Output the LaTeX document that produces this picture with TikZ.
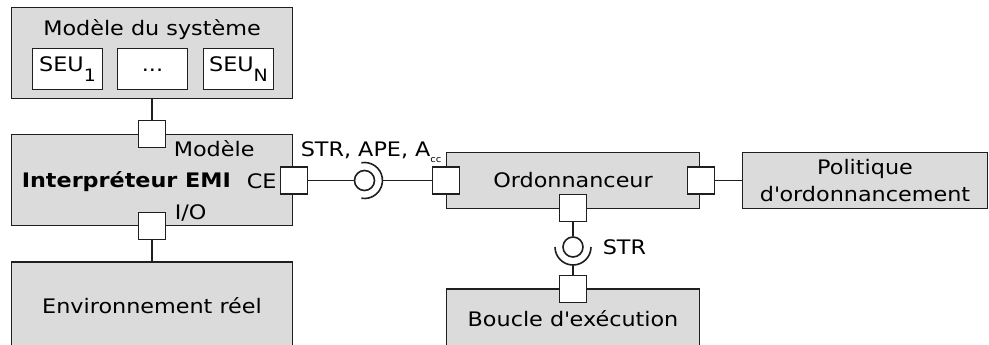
\documentclass[tikz,border=0pt]{standalone}
\usepackage{fontspec}
\setmainfont{DejaVu Sans}[FakeStretch=1.115]
\definecolor{boxgray}{gray}{0.86}
\definecolor{edgegray}{gray}{0.12}
\newcommand{\subidx}[1]{\raisebox{-10pt}{\fontsize{17}{17}\selectfont #1}}

\begin{document}
\begin{tikzpicture}[
    x=1pt, y=-1pt,
    line width=1.6pt,
    every node/.style={inner sep=0pt, font=\fontsize{20}{27}\selectfont},
    block/.style={draw=edgegray, fill=boxgray},
    port/.style={draw=edgegray, fill=white, minimum size=27pt},
    part/.style={draw=edgegray, fill=white, minimum width=70pt, minimum height=41pt},
    ball/.style={draw=edgegray, fill=white, circle, minimum size=20pt}]

    \useasboundingbox (0,0) rectangle (989,345);

    \node[block, minimum width=281pt, minimum height=91pt] (sysmodel) at (152,53) {};
    \node[anchor=base] (sysmodeltitle) at (152,36) {Modèle du système};
    \node[part] (seufirst) at (67.5,69) {SEU\subidx{1}};
    \node[part] (seudots) at (152.5,69) {\vphantom{SEU\subidx{1}}...};
    \node[part] (seulast) at (238.5,69) {SEU\subidx{N}};

    \node[block, minimum width=281pt, minimum height=91pt] (interp) at (152,180) {};
    \node[anchor=base west, font=\fontsize{20}{27}\selectfont\bfseries] (interptitle) at (21,187) {Interpréteur EMI};

    \node[block, minimum width=281pt, minimum height=100pt] (env) at (152,312) {};
    \node[anchor=base] (envtitle) at (152,313) {Environnement réel};

    \node[block, minimum width=253pt, minimum height=56pt] (ordo) at (573,180.5) {Ordonnanceur};
    \node[block, minimum width=245pt, minimum height=56pt, align=center] (politique) at (865,180.5) {Politique\\d\textquotesingle ordonnancement};

    \node[block, minimum width=253pt, minimum height=80pt] (loop) at (573,329) {};
    \node[anchor=base] (looptitle) at (573,326) {Boucle d\textquotesingle exécution};

    % ports
    \node[port] (portmodel) at (152,134) {};
    \node[port] (portio) at (152,226) {};
    \node[port] (portce) at (294,180.5) {};
    \node[port] (portordin) at (446,180.5) {};
    \node[port] (portordpol) at (701,180.5) {};
    \node[port] (portordout) at (573,208) {};
    \node[port] (portloop) at (573,289) {};

    \node[anchor=base west] (lblmodel) at (173,157) {Modèle};
    \node[anchor=base west] (lblce) at (246,188) {CE};
    \node[anchor=base west] (lblio) at (174,219) {I/O};
    \node[anchor=base west] (lblstr) at (300,156) {STR, APE, A\raisebox{-6pt}{\fontsize{9}{9}\selectfont cc}};
    \node[anchor=west] (lblloop) at (602,247) {STR};

    \draw[edgegray] (sysmodel) -- (portmodel);
    \draw[edgegray] (portio) -- (env);
    \draw[edgegray] (portordpol) -- (politique);

    % ball and socket
    \node[ball] (ballce) at (364.5,180.5) {};
    \draw[edgegray] (ballce.center) ++(100:18pt) arc[start angle=100, end angle=-100, radius=18pt];
    \coordinate (socketce) at (382.5,180.5);
    \draw[edgegray] (portce) -- (ballce);
    \draw[edgegray] (socketce) -- (portordin);

    \node[ball] (ballloop) at (573,247) {};
    \draw[edgegray] (ballloop.center) ++(-18pt,0) arc[start angle=180, end angle=360, radius=18pt];
    \coordinate (socketloop) at (573,265);
    \draw[edgegray] (portordout) -- (ballloop);
    \draw[edgegray] (socketloop) -- (portloop);

\end{tikzpicture}
\end{document}
